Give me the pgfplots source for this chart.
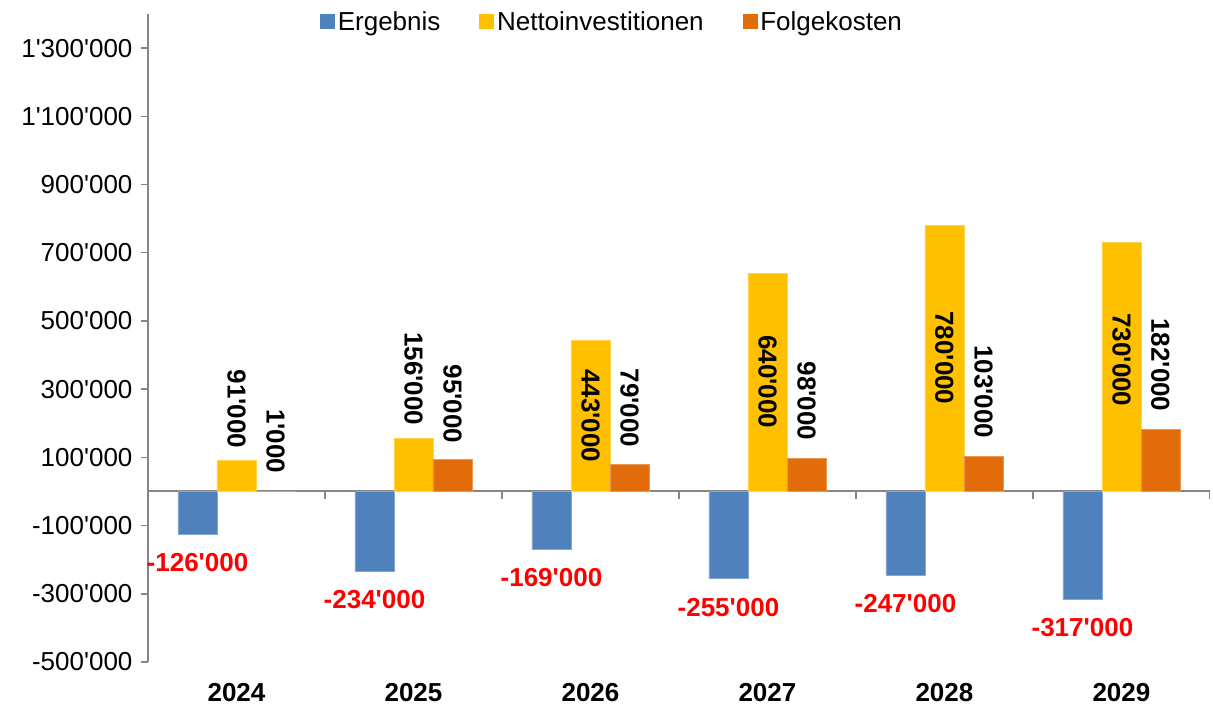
\documentclass[border=0pt]{standalone}
\usepackage{pgfplots}
\pgfplotsset{compat=1.18}
\usepackage{fontspec}
\setmainfont{Liberation Sans}[Ligatures=TeXOff]
\definecolor{cErg}{HTML}{4F81BD}
\definecolor{cNet}{HTML}{FFC000}
\definecolor{cFol}{HTML}{E36C0A}
\definecolor{cAx}{HTML}{868686}
\definecolor{cRed}{HTML}{FF0000}
\newcommand{\fs}{\fontsize{26}{30}\selectfont}
\begin{document}
\begin{tikzpicture}
\useasboundingbox (-148pt,-45pt) rectangle (1065pt,662pt);
\begin{axis}[
  scale only axis, width=1062pt, height=648pt,
  xmin=-0.5, xmax=5.5, ymin=-500000, ymax=1400000,
  scaled y ticks=false,
  ybar=0pt, bar width=39pt,
  axis y line=left, axis x line=bottom,
  x axis line style={draw=none},
  y axis line style={cAx, line width=2pt, -},
  ytick={-500000,-300000,-100000,100000,300000,500000,700000,900000,1100000,1300000},
  yticklabels={-500'000,-300'000,-100'000,100'000,300'000,500'000,700'000,900'000,1'100'000,1'300'000},
  y tick label style={font=\fs, xshift=-5pt},
  ytick align=outside, major tick length=7pt,
  y tick style={cAx, line width=1.5pt},
  xtick={0,1,2,3,4,5},
  xticklabels={2024,2025,2026,2027,2028,2029},
  x tick style={draw=none},
  xticklabel style={font=\bfseries\fs, anchor=center, yshift=-27pt},
  extra y ticks={0}, extra y tick labels={},
  extra y tick style={grid=major, major grid style={cAx, line width=2pt}, major tick length=0pt},
  legend columns=-1,
  legend style={draw=none, fill=none, font=\fs, at={(rel axis cs:0.162,0.988)}, anchor=west, inner sep=0pt,
    nodes={inner sep=3pt},
    /tikz/every even column/.append style={column sep=36pt}},
]
\addplot[fill=cErg, draw=cErg!70!white, line width=0.6pt,
  legend image code/.code={\fill[cErg] (0pt,-7pt) rectangle (14pt,7pt);}]
  coordinates {(0,-126000) (1,-234000) (2,-169000) (3,-255000) (4,-247000) (5,-317000)};
\addplot[fill=cNet, draw=cNet!70!white, line width=0.6pt,
  legend image code/.code={\fill[cNet] (0pt,-7pt) rectangle (14pt,7pt);}]
  coordinates {(0,91000) (1,156000) (2,443000) (3,640000) (4,780000) (5,730000)};
\addplot[fill=cFol, draw=cFol!70!white, line width=0.6pt,
  legend image code/.code={\fill[cFol] (0pt,-7pt) rectangle (14pt,7pt);}]
  coordinates {(0,1000) (1,95000) (2,79000) (3,98000) (4,103000) (5,182000)};
\legend{Ergebnis,Nettoinvestitionen,Folgekosten}

\pgfplotsinvokeforeach{0.5,1.5,2.5,3.5,4.5,5.5}{
  \draw[cAx, line width=1.2pt] (axis cs:#1,0) -- ([yshift=-8pt]axis cs:#1,0);
}
% Ergebnis labels
\begin{scope}[every node/.style={xshift=-39pt, font=\bfseries\fs, text=cRed, inner sep=0pt, anchor=center}]
\node at (axis cs:0,-207800) {-126'000};
\node at (axis cs:1,-316100) {-234'000};
\node at (axis cs:2,-251700) {-169'000};
\node at (axis cs:3,-339500) {-255'000};
\node at (axis cs:4,-327800) {-247'000};
\node at (axis cs:5,-398100) {-317'000};
\end{scope}
% Netto labels
\begin{scope}[every node/.style={font=\bfseries\fs, text=black, inner sep=0pt, anchor=east, rotate=-90}]
\node at (axis cs:0,125900) {91'000};
\node at (axis cs:1,193200) {156'000};
\node at (axis cs:2,84900) {443'000};
\node at (axis cs:3,184400) {640'000};
\node at (axis cs:4,254600) {780'000};
\node at (axis cs:5,248800) {730'000};
\end{scope}
% Folgekosten labels
\begin{scope}[every node/.style={xshift=39pt, font=\bfseries\fs, text=black, inner sep=0pt, anchor=east, rotate=-90}]
\node at (axis cs:0,52700) {1'000};
\node at (axis cs:1,140500) {95'000};
\node at (axis cs:2,128800) {79'000};
\node at (axis cs:3,149300) {98'000};
\node at (axis cs:4,155100) {103'000};
\node at (axis cs:5,234200) {182'000};
\end{scope}
\end{axis}
\end{tikzpicture}
\end{document}
